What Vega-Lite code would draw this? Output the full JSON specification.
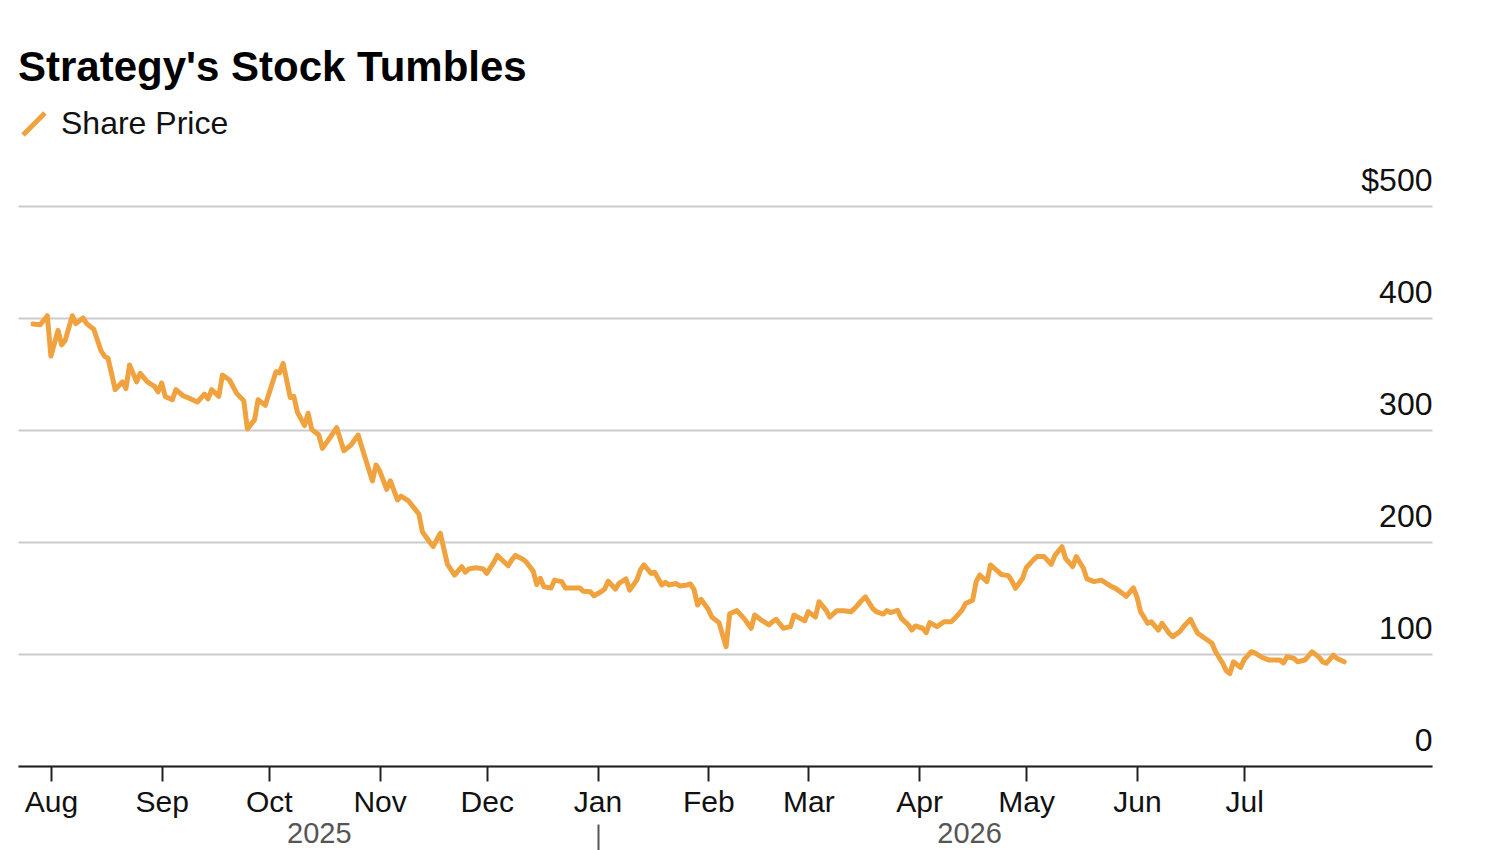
{
  "$schema": "https://vega.github.io/schema/vega-lite/v6.json",
  "width": 1414,
  "height": 560,
  "autosize": {"type": "none"},
  "padding": {"left": 18, "top": 206, "right": 68, "bottom": 84},
  "background": "white",
  "title": {
    "text": "Strategy's Stock Tumbles",
    "anchor": "start",
    "frame": "group",
    "font": "Liberation Sans",
    "fontSize": 42,
    "fontWeight": "bold",
    "color": "#000000",
    "offset": 18
  },
  "config": {
    "view": {"stroke": null},
    "font": "Liberation Sans"
  },
  "datasets": {
    "price": [
      {"date": "2025-07-27", "price": 394.6},
      {"date": "2025-07-29", "price": 394},
      {"date": "2025-07-31", "price": 402},
      {"date": "2025-08-01", "price": 366},
      {"date": "2025-08-03", "price": 389},
      {"date": "2025-08-04", "price": 376},
      {"date": "2025-08-05", "price": 380},
      {"date": "2025-08-07", "price": 402},
      {"date": "2025-08-08", "price": 395},
      {"date": "2025-08-10", "price": 400},
      {"date": "2025-08-11", "price": 395},
      {"date": "2025-08-13", "price": 390},
      {"date": "2025-08-15", "price": 371},
      {"date": "2025-08-16", "price": 366},
      {"date": "2025-08-17", "price": 364},
      {"date": "2025-08-19", "price": 336},
      {"date": "2025-08-21", "price": 343},
      {"date": "2025-08-22", "price": 337},
      {"date": "2025-08-23", "price": 358},
      {"date": "2025-08-25", "price": 343},
      {"date": "2025-08-26", "price": 350.6},
      {"date": "2025-08-28", "price": 343},
      {"date": "2025-08-30", "price": 339},
      {"date": "2025-08-31", "price": 334},
      {"date": "2025-09-01", "price": 342},
      {"date": "2025-09-02", "price": 330},
      {"date": "2025-09-04", "price": 327},
      {"date": "2025-09-05", "price": 336},
      {"date": "2025-09-07", "price": 330.6},
      {"date": "2025-09-09", "price": 328},
      {"date": "2025-09-11", "price": 325},
      {"date": "2025-09-13", "price": 332},
      {"date": "2025-09-14", "price": 327.7},
      {"date": "2025-09-15", "price": 336},
      {"date": "2025-09-17", "price": 330},
      {"date": "2025-09-18", "price": 349},
      {"date": "2025-09-20", "price": 344.6},
      {"date": "2025-09-22", "price": 332.7},
      {"date": "2025-09-24", "price": 326},
      {"date": "2025-09-25", "price": 301},
      {"date": "2025-09-27", "price": 309},
      {"date": "2025-09-28", "price": 327},
      {"date": "2025-09-30", "price": 322},
      {"date": "2025-10-03", "price": 352},
      {"date": "2025-10-04", "price": 351},
      {"date": "2025-10-05", "price": 359.5},
      {"date": "2025-10-07", "price": 329},
      {"date": "2025-10-08", "price": 330},
      {"date": "2025-10-09", "price": 316},
      {"date": "2025-10-11", "price": 304},
      {"date": "2025-10-12", "price": 315},
      {"date": "2025-10-13", "price": 300.6},
      {"date": "2025-10-15", "price": 295.5},
      {"date": "2025-10-16", "price": 283.6},
      {"date": "2025-10-18", "price": 292.6},
      {"date": "2025-10-20", "price": 302},
      {"date": "2025-10-22", "price": 281.5},
      {"date": "2025-10-24", "price": 286.6},
      {"date": "2025-10-26", "price": 295.5},
      {"date": "2025-10-27", "price": 285},
      {"date": "2025-10-28", "price": 274.7},
      {"date": "2025-10-30", "price": 254.5},
      {"date": "2025-10-31", "price": 268.8},
      {"date": "2025-11-01", "price": 263.7},
      {"date": "2025-11-03", "price": 247},
      {"date": "2025-11-04", "price": 254.7},
      {"date": "2025-11-06", "price": 237.5},
      {"date": "2025-11-07", "price": 241},
      {"date": "2025-11-09", "price": 237},
      {"date": "2025-11-12", "price": 225},
      {"date": "2025-11-13", "price": 209},
      {"date": "2025-11-15", "price": 200},
      {"date": "2025-11-16", "price": 196},
      {"date": "2025-11-18", "price": 207.8},
      {"date": "2025-11-20", "price": 180},
      {"date": "2025-11-22", "price": 170.5},
      {"date": "2025-11-24", "price": 178},
      {"date": "2025-11-25", "price": 173},
      {"date": "2025-11-26", "price": 176},
      {"date": "2025-11-28", "price": 177},
      {"date": "2025-11-30", "price": 176},
      {"date": "2025-12-01", "price": 172},
      {"date": "2025-12-03", "price": 182},
      {"date": "2025-12-04", "price": 188},
      {"date": "2025-12-05", "price": 184.8},
      {"date": "2025-12-07", "price": 178.8},
      {"date": "2025-12-08", "price": 184},
      {"date": "2025-12-09", "price": 188},
      {"date": "2025-12-11", "price": 184.8},
      {"date": "2025-12-12", "price": 182.4},
      {"date": "2025-12-14", "price": 174},
      {"date": "2025-12-15", "price": 162},
      {"date": "2025-12-16", "price": 167.6},
      {"date": "2025-12-17", "price": 160},
      {"date": "2025-12-19", "price": 159},
      {"date": "2025-12-20", "price": 166},
      {"date": "2025-12-22", "price": 164.6},
      {"date": "2025-12-23", "price": 159},
      {"date": "2025-12-25", "price": 159},
      {"date": "2025-12-27", "price": 159},
      {"date": "2025-12-28", "price": 156},
      {"date": "2025-12-30", "price": 155.6},
      {"date": "2025-12-31", "price": 152},
      {"date": "2026-01-02", "price": 155.6},
      {"date": "2026-01-03", "price": 158},
      {"date": "2026-01-04", "price": 165},
      {"date": "2026-01-06", "price": 158},
      {"date": "2026-01-07", "price": 163},
      {"date": "2026-01-09", "price": 167},
      {"date": "2026-01-10", "price": 157},
      {"date": "2026-01-12", "price": 166},
      {"date": "2026-01-13", "price": 175},
      {"date": "2026-01-14", "price": 179.5},
      {"date": "2026-01-16", "price": 172},
      {"date": "2026-01-17", "price": 173},
      {"date": "2026-01-19", "price": 161.6},
      {"date": "2026-01-20", "price": 164},
      {"date": "2026-01-21", "price": 161.6},
      {"date": "2026-01-23", "price": 163},
      {"date": "2026-01-24", "price": 160.8},
      {"date": "2026-01-26", "price": 161.6},
      {"date": "2026-01-27", "price": 162.5},
      {"date": "2026-01-28", "price": 157.7},
      {"date": "2026-01-29", "price": 143.7},
      {"date": "2026-01-30", "price": 148.8},
      {"date": "2026-02-01", "price": 140},
      {"date": "2026-02-02", "price": 133},
      {"date": "2026-02-04", "price": 128},
      {"date": "2026-02-06", "price": 106.5},
      {"date": "2026-02-07", "price": 136},
      {"date": "2026-02-09", "price": 138.7},
      {"date": "2026-02-11", "price": 131.8},
      {"date": "2026-02-13", "price": 123},
      {"date": "2026-02-14", "price": 134.8},
      {"date": "2026-02-16", "price": 130},
      {"date": "2026-02-18", "price": 126},
      {"date": "2026-02-19", "price": 128.8},
      {"date": "2026-02-20", "price": 131},
      {"date": "2026-02-22", "price": 123},
      {"date": "2026-02-24", "price": 124.4},
      {"date": "2026-02-25", "price": 134.8},
      {"date": "2026-02-26", "price": 133},
      {"date": "2026-02-28", "price": 129.7},
      {"date": "2026-03-01", "price": 137.8},
      {"date": "2026-03-03", "price": 133},
      {"date": "2026-03-04", "price": 146.7},
      {"date": "2026-03-06", "price": 139},
      {"date": "2026-03-07", "price": 133},
      {"date": "2026-03-09", "price": 138.7},
      {"date": "2026-03-11", "price": 138.7},
      {"date": "2026-03-13", "price": 137.8},
      {"date": "2026-03-14", "price": 140.8},
      {"date": "2026-03-16", "price": 148},
      {"date": "2026-03-17", "price": 151},
      {"date": "2026-03-19", "price": 140.8},
      {"date": "2026-03-20", "price": 137.8},
      {"date": "2026-03-22", "price": 135.7},
      {"date": "2026-03-23", "price": 138.7},
      {"date": "2026-03-24", "price": 137},
      {"date": "2026-03-26", "price": 139},
      {"date": "2026-03-27", "price": 132},
      {"date": "2026-03-29", "price": 126},
      {"date": "2026-03-30", "price": 121.4},
      {"date": "2026-03-31", "price": 125},
      {"date": "2026-04-02", "price": 123},
      {"date": "2026-04-03", "price": 119},
      {"date": "2026-04-04", "price": 128},
      {"date": "2026-04-06", "price": 124.4},
      {"date": "2026-04-08", "price": 128.8},
      {"date": "2026-04-10", "price": 128.8},
      {"date": "2026-04-11", "price": 131.8},
      {"date": "2026-04-13", "price": 139},
      {"date": "2026-04-14", "price": 145},
      {"date": "2026-04-16", "price": 148},
      {"date": "2026-04-17", "price": 164.6},
      {"date": "2026-04-18", "price": 170.5},
      {"date": "2026-04-20", "price": 164.6},
      {"date": "2026-04-21", "price": 179.5},
      {"date": "2026-04-23", "price": 174},
      {"date": "2026-04-24", "price": 171},
      {"date": "2026-04-26", "price": 170},
      {"date": "2026-04-27", "price": 165},
      {"date": "2026-04-28", "price": 158.6},
      {"date": "2026-04-30", "price": 167.6},
      {"date": "2026-05-01", "price": 177},
      {"date": "2026-05-03", "price": 184},
      {"date": "2026-05-04", "price": 187},
      {"date": "2026-05-06", "price": 187},
      {"date": "2026-05-08", "price": 180},
      {"date": "2026-05-09", "price": 187.8},
      {"date": "2026-05-11", "price": 195.8},
      {"date": "2026-05-12", "price": 185.4},
      {"date": "2026-05-14", "price": 178},
      {"date": "2026-05-15", "price": 187},
      {"date": "2026-05-17", "price": 176.5},
      {"date": "2026-05-18", "price": 167},
      {"date": "2026-05-20", "price": 164.6},
      {"date": "2026-05-22", "price": 166},
      {"date": "2026-05-23", "price": 164},
      {"date": "2026-05-25", "price": 160},
      {"date": "2026-05-26", "price": 158.6},
      {"date": "2026-05-28", "price": 154},
      {"date": "2026-05-29", "price": 151.5},
      {"date": "2026-05-31", "price": 159},
      {"date": "2026-06-01", "price": 151},
      {"date": "2026-06-02", "price": 137.8},
      {"date": "2026-06-04", "price": 127.4},
      {"date": "2026-06-05", "price": 128.8},
      {"date": "2026-06-07", "price": 121.4},
      {"date": "2026-06-08", "price": 127.4},
      {"date": "2026-06-10", "price": 118.5},
      {"date": "2026-06-11", "price": 115.5},
      {"date": "2026-06-13", "price": 120},
      {"date": "2026-06-14", "price": 124.4},
      {"date": "2026-06-16", "price": 131},
      {"date": "2026-06-17", "price": 124.4},
      {"date": "2026-06-18", "price": 118.5},
      {"date": "2026-06-20", "price": 114},
      {"date": "2026-06-22", "price": 109.6},
      {"date": "2026-06-23", "price": 102},
      {"date": "2026-06-25", "price": 91.7},
      {"date": "2026-06-26", "price": 85},
      {"date": "2026-06-27", "price": 82.5},
      {"date": "2026-06-28", "price": 93},
      {"date": "2026-06-30", "price": 88},
      {"date": "2026-07-01", "price": 95},
      {"date": "2026-07-03", "price": 102},
      {"date": "2026-07-04", "price": 101},
      {"date": "2026-07-06", "price": 97},
      {"date": "2026-07-08", "price": 94.6},
      {"date": "2026-07-09", "price": 94.6},
      {"date": "2026-07-11", "price": 94.6},
      {"date": "2026-07-12", "price": 92},
      {"date": "2026-07-13", "price": 97.6},
      {"date": "2026-07-15", "price": 96},
      {"date": "2026-07-16", "price": 93},
      {"date": "2026-07-18", "price": 94.6},
      {"date": "2026-07-20", "price": 102},
      {"date": "2026-07-22", "price": 97},
      {"date": "2026-07-23", "price": 93},
      {"date": "2026-07-24", "price": 91.7},
      {"date": "2026-07-26", "price": 99},
      {"date": "2026-07-27", "price": 96},
      {"date": "2026-07-29", "price": 93}
    ],
    "years": [
      {"date": "2025-10-15", "year": "2025"},
      {"date": "2026-04-15", "year": "2026"}
    ]
  },
  "resolve": {"axis": {"x": "independent"}},
  "layer": [
    {
      "data": {"name": "price"},
      "mark": {"type": "line", "strokeWidth": 5, "strokeJoin": "round", "strokeCap": "round", "clip": false},
      "encoding": {
        "x": {
          "field": "date",
          "type": "temporal",
          "scale": {
            "type": "utc",
            "domain": [
              {"year": 2025, "month": 7, "date": 22, "hours": 19, "utc": true},
              {"year": 2026, "month": 8, "date": 22, "hours": 14, "utc": true}
            ]
          },
          "axis": {
            "orient": "bottom",
            "title": null,
            "format": "%b",
            "values": [
              {"year": 2025, "month": 8, "date": 1, "utc": true},
              {"year": 2025, "month": 9, "date": 1, "utc": true},
              {"year": 2025, "month": 10, "date": 1, "utc": true},
              {"year": 2025, "month": 11, "date": 1, "utc": true},
              {"year": 2025, "month": 12, "date": 1, "utc": true},
              {"year": 2026, "month": 1, "date": 1, "utc": true},
              {"year": 2026, "month": 2, "date": 1, "utc": true},
              {"year": 2026, "month": 3, "date": 1, "utc": true},
              {"year": 2026, "month": 4, "date": 1, "utc": true},
              {"year": 2026, "month": 5, "date": 1, "utc": true},
              {"year": 2026, "month": 6, "date": 1, "utc": true},
              {"year": 2026, "month": 7, "date": 1, "utc": true}
            ],
            "grid": false,
            "domain": true,
            "domainColor": "#222222",
            "domainWidth": 2,
            "ticks": true,
            "tickColor": "#222222",
            "tickWidth": 2,
            "tickSize": 15,
            "labelFont": "Liberation Sans",
            "labelFontSize": 30,
            "labelColor": "#111111",
            "labelPadding": 6,
            "labelFlush": false,
            "labelOverlap": false
          }
        },
        "y": {
          "field": "price",
          "type": "quantitative",
          "scale": {"domain": [0, 500], "nice": false, "zero": true},
          "axis": {
            "orient": "right",
            "title": null,
            "values": [0, 100, 200, 300, 400, 500],
            "labelExpr": "datum.value == 500 ? '$500' : datum.label",
            "grid": true,
            "gridColor": "#cccccc",
            "gridWidth": 2,
            "domain": false,
            "ticks": false,
            "tickSize": 0,
            "labelAlign": "right",
            "labelBaseline": "alphabetic",
            "labelOffset": -16,
            "labelPadding": 0,
            "labelFont": "Liberation Sans",
            "labelFontSize": 32,
            "labelColor": "#111111"
          }
        },
        "color": {
          "datum": "Share Price",
          "type": "nominal",
          "scale": {"range": ["#F0A23F"]},
          "legend": {
            "title": null,
            "orient": "none",
            "legendX": 0,
            "legendY": -98,
            "symbolType": "M-1,1L1,-1",
            "symbolSize": 480,
            "symbolStrokeWidth": 5,
            "symbolFillColor": "transparent",
            "symbolStrokeColor": "#F0A23F",
            "labelFont": "Liberation Sans",
            "labelFontSize": 32,
            "labelColor": "#111111",
            "labelLimit": 400,
            "labelOffset": 11
          }
        }
      }
    },
    {
      "data": {"name": "years"},
      "mark": {"type": "text", "opacity": 0},
      "encoding": {
        "x": {
          "field": "date",
          "type": "temporal",
          "axis": {
            "orient": "bottom",
            "offset": 58,
            "title": null,
            "values": [
              {"year": 2025, "month": 10, "date": 15, "utc": true},
              {"year": 2026, "month": 1, "date": 1, "utc": true},
              {"year": 2026, "month": 4, "date": 15, "utc": true}
            ],
            "labelExpr": "utcmonth(datum.value) == 0 ? '' : utcFormat(datum.value, '%Y')",
            "grid": false,
            "domain": false,
            "ticks": true,
            "tickSize": 28,
            "tickWidth": 2,
            "tickColor": "#555555",
            "tickOpacity": {"condition": {"test": "utcmonth(datum.value) == 0", "value": 1}, "value": 0},
            "labelPadding": -33,
            "labelFont": "Liberation Sans",
            "labelFontSize": 29,
            "labelColor": "#555555",
            "labelFlush": false,
            "labelOverlap": false
          }
        },
        "text": {"field": "year"}
      }
    }
  ]
}
